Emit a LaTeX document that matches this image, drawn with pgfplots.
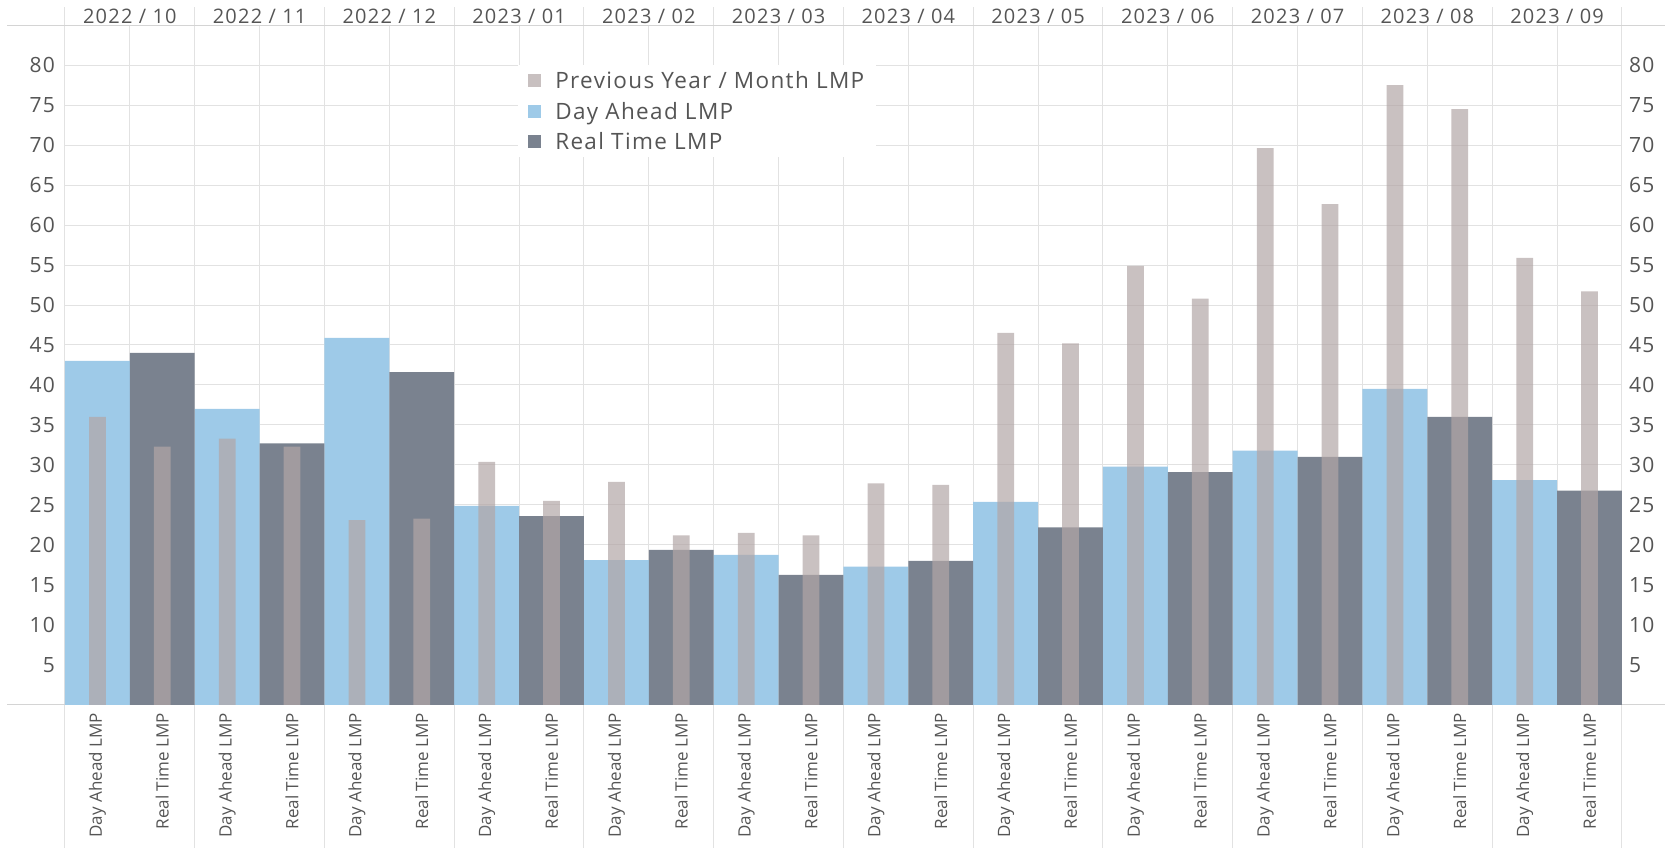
\documentclass[border=0pt]{standalone}
\usepackage{fontspec}
\usepackage{pgfplots}
\pgfplotsset{compat=1.18}
\newfontfamily\osw{Open Sans}[LetterSpace=6]
\newfontfamily\os{Open Sans}
\newcommand\monthfont{\osw\fontsize{20pt}{23pt}\selectfont}
\newcommand\valfont{\osw\fontsize{21pt}{24pt}\selectfont}
\newcommand\legfont{\osw\fontsize{22.5pt}{26pt}\selectfont}
\definecolor{dac}{RGB}{158,202,232}
\definecolor{rtc}{RGB}{122,130,143}
\definecolor{prevc}{RGB}{178,166,166}
\definecolor{gridc}{RGB}{226,226,226}
\definecolor{linec}{RGB}{212,212,212}
\definecolor{txtc}{RGB}{85,85,85}

\begin{document}
\begin{tikzpicture}
\useasboundingbox (-65pt,-143pt) rectangle (1601pt,705pt);
\begin{axis}[
    scale only axis, width=1557pt, height=680pt,
    xmin=-0.5, xmax=23.5, ymin=0, ymax=85,
    clip=false,
    axis line style={draw=none},
    major tick length=0pt, minor tick length=0pt,
    xtick={0,...,23},
    xticklabels={Day Ahead LMP,Real Time LMP,Day Ahead LMP,Real Time LMP,
                 Day Ahead LMP,Real Time LMP,Day Ahead LMP,Real Time LMP,
                 Day Ahead LMP,Real Time LMP,Day Ahead LMP,Real Time LMP,
                 Day Ahead LMP,Real Time LMP,Day Ahead LMP,Real Time LMP,
                 Day Ahead LMP,Real Time LMP,Day Ahead LMP,Real Time LMP,
                 Day Ahead LMP,Real Time LMP,Day Ahead LMP,Real Time LMP},
    xticklabel style={rotate=90, anchor=east, inner sep=0pt,
                      font=\os\fontsize{17pt}{20pt}\selectfont, text=txtc},
    xticklabel shift=8pt,
    minor xtick={-0.5,0.5,...,23.5},
    xminorgrids,
    ytick={5,10,...,80},
    ymajorgrids,
    grid style={gridc, line width=1pt},
    minor grid style={gridc, line width=1pt},
    yticklabel style={inner sep=0pt, font=\valfont, text=txtc},
    yticklabel shift=10pt,
    /pgf/number format/assume math mode=true,
    legend image code/.code={\fill[#1] (0pt,-6.5pt) rectangle (13pt,6.5pt);},
    legend cell align=left,
    legend style={at={(axis description cs:0.291,0.941)}, anchor=north west,
                  draw=none, fill=white, inner xsep=10pt, inner ysep=4pt,
                  row sep=8pt, font=\legfont, text=txtc,
                  /tikz/every odd column/.append style={column sep=12pt}},
]
% header and label-area frame lines
\draw[linec, line width=1pt] (axis cs:-1.394,85) -- (axis cs:24.17,85);
\draw[linec, line width=1pt] (axis cs:-1.394,0) -- (axis cs:24.17,0);
\pgfplotsinvokeforeach{-0.5,1.5,...,23.5}{
  \draw[gridc, line width=1pt] (axis cs:#1,85) -- (axis cs:#1,87.25);
  \draw[gridc, line width=1pt] (axis cs:#1,0) -- (axis cs:#1,-17.875);
}
\foreach \lab [count=\i from 0] in {2022 / 10,2022 / 11,2022 / 12,2023 / 01,2023 / 02,2023 / 03,
                                    2023 / 04,2023 / 05,2023 / 06,2023 / 07,2023 / 08,2023 / 09}{
  \pgfmathsetmacro{\cx}{2*\i+0.5}
  \edef\tmp{\noexpand\node[font=\noexpand\monthfont, text=txtc, inner sep=0pt]
       at (axis cs:\cx,86.04) {\lab};}
  \tmp
}

\addlegendimage{fill=prevc, fill opacity=0.7, draw=none}
\addlegendentry{Previous Year / Month LMP}
\addlegendimage{fill=dac, draw=none}
\addlegendentry{Day Ahead LMP}
\addlegendimage{fill=rtc, draw=none}
\addlegendentry{Real Time LMP}

% Day Ahead LMP
\addplot[ybar, bar width=1, bar shift=0pt, fill=dac, draw=none, forget plot]
  coordinates {(0,43.0) (2,37.0) (4,45.9) (6,24.9) (8,18.1) (10,18.75)
               (12,17.3) (14,25.4) (16,29.8) (18,31.8) (20,39.5) (22,28.1)};
% Real Time LMP
\addplot[ybar, bar width=1, bar shift=0pt, fill=rtc, draw=none, forget plot]
  coordinates {(1,44.0) (3,32.7) (5,41.6) (7,23.6) (9,19.4) (11,16.25)
               (13,18.0) (15,22.2) (17,29.1) (19,31.0) (21,36.0) (23,26.8)};
% Previous Year / Month LMP
\addplot[ybar, bar width=0.26, bar shift=0pt, fill=prevc, fill opacity=0.7, draw=none, forget plot]
  coordinates {(0,36.0) (1,32.3) (2,33.3) (3,32.3) (4,23.1) (5,23.3)
               (6,30.4) (7,25.5) (8,27.9) (9,21.2) (10,21.5) (11,21.2)
               (12,27.7) (13,27.5) (14,46.5) (15,45.2) (16,54.9) (17,50.8)
               (18,69.6) (19,62.6) (20,77.5) (21,74.5) (22,55.9) (23,51.7)};
\end{axis}
% right-hand value labels
\begin{axis}[
    scale only axis, width=1557pt, height=680pt,
    xmin=-0.5, xmax=23.5, ymin=0, ymax=85,
    axis line style={draw=none},
    major tick length=0pt,
    xtick=\empty,
    ytick={5,10,...,80},
    yticklabel pos=right,
    yticklabel style={inner sep=0pt, font=\valfont, text=txtc},
    yticklabel shift=7pt,
    /pgf/number format/assume math mode=true,
]
\addplot[draw=none, forget plot] coordinates {(0,0)};
\end{axis}
\end{tikzpicture}
\end{document}
